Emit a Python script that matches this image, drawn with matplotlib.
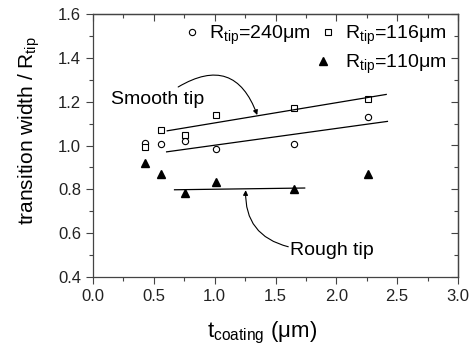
import matplotlib
matplotlib.use("Agg")
import matplotlib.pyplot as plt
from matplotlib.lines import Line2D
from matplotlib.ticker import MultipleLocator, FormatStrFormatter

plt.rcParams['font.family'] = ['Liberation Sans', 'DejaVu Sans']
plt.rcParams['mathtext.fontset'] = 'custom'
plt.rcParams['mathtext.rm'] = 'Liberation Sans'
plt.rcParams['mathtext.it'] = 'Liberation Sans'
plt.rcParams['mathtext.bf'] = 'Liberation Sans:bold'

# data
t_coating = [0.43, 0.56, 0.76, 1.01, 1.65, 2.26]
r240 = [1.012, 1.008, 1.019, 0.984, 1.008, 1.13]
r116 = [0.993, 1.073, 1.049, 1.137, 1.172, 1.21]
r110 = [0.921, 0.871, 0.784, 0.833, 0.800, 0.871]

fit116_x = [0.61, 2.41]
fit116_y = [1.067, 1.233]
fit240_x = [0.605, 2.42]
fit240_y = [0.971, 1.11]
fit110_x = [0.67, 1.74]
fit110_y = [0.798, 0.806]

AX = '#444444'

fig = plt.figure(figsize=(4.75, 3.51), dpi=100)
ax = fig.add_axes([93/475, 1-277/351, (458-93)/475, (277-14)/351])

ax.plot(t_coating, r240, linestyle='none', marker='o', mfc='white', mec='black', ms=4.5, mew=0.8)
ax.plot(t_coating, r116, linestyle='none', marker='s', mfc='white', mec='black', ms=4.2, mew=0.8)
ax.plot(t_coating, r110, linestyle='none', marker='^', mfc='black', mec='black', ms=5.5)

ax.plot(fit116_x, fit116_y, color='black', lw=0.9)
ax.plot(fit240_x, fit240_y, color='black', lw=0.9)
ax.plot(fit110_x, fit110_y, color='black', lw=0.9)

ax.set_xlim(0, 3.0)
ax.set_ylim(0.4, 1.6)
ax.xaxis.set_major_locator(MultipleLocator(0.5))
ax.xaxis.set_minor_locator(MultipleLocator(0.25))
ax.yaxis.set_major_locator(MultipleLocator(0.2))
ax.yaxis.set_minor_locator(MultipleLocator(0.1))
ax.xaxis.set_major_formatter(FormatStrFormatter('%.1f'))
ax.yaxis.set_major_formatter(FormatStrFormatter('%.1f'))

for s in ax.spines.values():
    s.set_color(AX)
    s.set_linewidth(0.9)
ax.tick_params(axis='both', which='both', color=AX, labelsize=12, labelcolor='#222222',
               direction='out', top=False, right=False)
ax.tick_params(axis='both', which='major', length=5, width=0.8)
ax.tick_params(axis='both', which='minor', length=3, width=0.8)

# inward ticks on top/right
secx = ax.secondary_xaxis('top')
secx.xaxis.set_major_locator(MultipleLocator(0.5))
secx.xaxis.set_minor_locator(MultipleLocator(0.25))
secx.tick_params(which='both', direction='in', labeltop=False, color=AX, width=0.8)
secx.tick_params(which='major', length=5)
secx.tick_params(which='minor', length=3)
secy = ax.secondary_yaxis('right')
secy.yaxis.set_major_locator(MultipleLocator(0.2))
secy.yaxis.set_minor_locator(MultipleLocator(0.1))
secy.tick_params(which='both', direction='in', labelright=False, color=AX, width=0.8)
secy.tick_params(which='major', length=5)
secy.tick_params(which='minor', length=3)
for sa in (secx, secy):
    for s in sa.spines.values():
        s.set_color(AX)
        s.set_linewidth(0.9)

ax.set_xlabel(r'$\mathrm{t}_{\mathrm{coating}}$ (μm)', fontsize=16)
ax.xaxis.set_label_coords(0.462, -0.165)
ax.set_ylabel(r'transition width / $\mathrm{R}_{\mathrm{tip}}$', fontsize=15)
ax.yaxis.set_label_coords(-0.14, 0.555)

# legends
h240 = Line2D([], [], linestyle='none', marker='o', mfc='white', mec='black', ms=4.5, mew=0.8)
h116 = Line2D([], [], linestyle='none', marker='s', mfc='white', mec='black', ms=4.2, mew=0.8)
h110 = Line2D([], [], linestyle='none', marker='^', mfc='black', mec='black', ms=5.5)
leg1 = ax.legend([h240, h116], [r'$\mathrm{R}_{\mathrm{tip}}$=240μm', r'$\mathrm{R}_{\mathrm{tip}}$=116μm'],
                 ncol=2, loc='upper right', bbox_to_anchor=(1.0, 1.008), frameon=False, fontsize=14,
                 handlelength=0.8, handletextpad=0.45, columnspacing=0.55, borderaxespad=0.2)
ax.add_artist(leg1)
ax.legend([h110], [r'$\mathrm{R}_{\mathrm{tip}}$=110μm'], loc='upper right', bbox_to_anchor=(1.0, 0.898),
          frameon=False, fontsize=14, handlelength=0.8, handletextpad=0.75, borderaxespad=0.2)

# annotations
ax.text(0.15, 1.21, 'Smooth tip', fontsize=14, va='center', ha='left')
ax.annotate('', xy=(1.35, 1.139), xytext=(0.70, 1.267),
            arrowprops=dict(arrowstyle='-|>', color='black', lw=0.8, mutation_scale=7,
                            connectionstyle='arc3,rad=-0.6', shrinkA=0, shrinkB=0))
ax.text(1.62, 0.52, 'Rough tip', fontsize=14, va='center', ha='left')
ax.annotate('', xy=(1.255, 0.796), xytext=(1.605, 0.538),
            arrowprops=dict(arrowstyle='-|>', color='black', lw=0.8, mutation_scale=7,
                            connectionstyle='arc3,rad=-0.4', shrinkA=0, shrinkB=0))

fig.savefig('out.png', dpi=100)
